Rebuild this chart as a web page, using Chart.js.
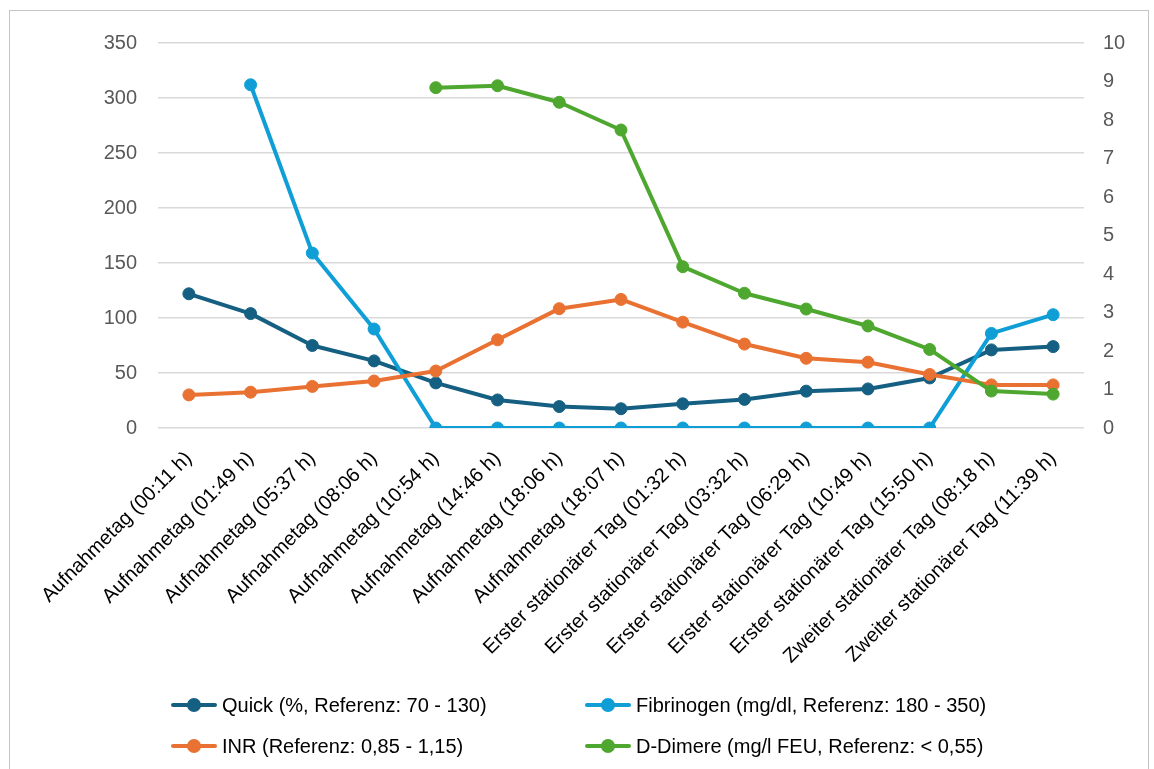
<!DOCTYPE html>
<html>
<head>
<meta charset="utf-8">
<script src="https://cdn.jsdelivr.net/npm/chart.js@4.4.1/dist/chart.umd.min.js"></script>
<style>
  html, body { margin: 0; padding: 0; background: #fff; }
  body { width: 1154px; height: 769px; position: relative; overflow: hidden;
         font-family: "Liberation Sans", Arial, sans-serif; }
  #frame { position: absolute; left: 9px; top: 10px; width: 1140px; height: 800px;
           border: 1.5px solid #c4c4c4; box-sizing: border-box; }
  #wrap { position: absolute; left: 0; top: 0; width: 1154px; height: 769px; }
  #legend { position: absolute; left: 0; top: 0; }
  .item { position: absolute; height: 24px; display: flex; align-items: center;
          font-size: 20px; color: #000; white-space: nowrap; }
  .mark { position: relative; width: 46px; height: 14px; margin-right: 5px; }
  .mark .ln { position: absolute; left: 0; right: 0; top: 5px; height: 4px; border-radius: 2px; }
  .mark .dt { position: absolute; left: 16px; top: 0; width: 14px; height: 14px; border-radius: 50%; }
</style>
</head>
<body>
<div id="frame"></div>
<div id="wrap"><canvas id="c" width="1154" height="769"></canvas></div>
<div id="legend"></div>
<script>
// Messzeitpunkte
const categories = [
  "Aufnahmetag (00:11 h)", "Aufnahmetag (01:49 h)", "Aufnahmetag (05:37 h)",
  "Aufnahmetag (08:06 h)", "Aufnahmetag (10:54 h)", "Aufnahmetag (14:46 h)",
  "Aufnahmetag (18:06 h)", "Aufnahmetag (18:07 h)", "Erster stationärer Tag (01:32 h)",
  "Erster stationärer Tag (03:32 h)", "Erster stationärer Tag (06:29 h)",
  "Erster stationärer Tag (10:49 h)", "Erster stationärer Tag (15:50 h)",
  "Zweiter stationärer Tag (08:18 h)", "Zweiter stationärer Tag (11:39 h)"
];

// Primärachse (links)
const quick      = [122, 104, 75, 61, 41, 25.5, 19.5, 17.5, 22, 26, 33.5, 35.5, 45.5, 71, 74];
const fibrinogen = [null, 312, 159, 90, 0, 0, 0, 0, 0, 0, 0, 0, 0, 86, 103];

// Sekundärachse (rechts)
const inr      = [0.86, 0.93, 1.08, 1.22, 1.48, 2.29, 3.1, 3.34, 2.75, 2.18, 1.81, 1.71, 1.39, 1.12, 1.12];
const dDimere  = [null, null, null, null, 8.84, 8.89, 8.46, 7.74, 4.19, 3.5, 3.09, 2.65, 2.04, 0.96, 0.88];

// Achsenbeschriftung
const leftTicks  = [0, 50, 100, 150, 200, 250, 300, 350];
const rightTicks = [0, 1, 2, 3, 4, 5, 6, 7, 8, 9, 10];

const seriesNames = [
  "Quick (%, Referenz: 70 - 130)",
  "Fibrinogen (mg/dl, Referenz: 180 - 350)",
  "INR (Referenz: 0,85 - 1,15)",
  "D-Dimere (mg/l FEU, Referenz: < 0,55)"
];
const colors = ["#156082", "#0F9ED5", "#E97132", "#4EA72E"];

const FONT = '"Liberation Sans", Arial, sans-serif';

function lineSet(label, data, color, axis, order) {
  return {
    label, data, yAxisID: axis, order,
    borderColor: color, backgroundColor: color,
    borderWidth: 4, pointRadius: 6, pointBorderWidth: 1,
    pointBackgroundColor: color, pointBorderColor: color,
    pointHoverRadius: 6, tension: 0, spanGaps: false,
    borderCapStyle: 'round', borderJoinStyle: 'round'
  };
}

const chart = new Chart(document.getElementById('c'), {
  type: 'line',
  data: {
    labels: categories,
    datasets: [
      lineSet(seriesNames[0], quick, colors[0], 'y', 4),
      lineSet(seriesNames[1], fibrinogen, colors[1], 'y', 3),
      lineSet(seriesNames[2], inr, colors[2], 'y2', 2),
      lineSet(seriesNames[3], dDimere, colors[3], 'y2', 1)
    ]
  },
  options: {
    responsive: false,
    animation: false,
    devicePixelRatio: 1,
    layout: { padding: { top: 43, right: 0, bottom: 0, left: 0 } },
    plugins: { legend: { display: false }, tooltip: { enabled: false } },
    scales: {
      x: {
        offset: true,
        grid: { display: false, drawTicks: false },
        border: { display: false },
        ticks: {
          autoSkip: false, minRotation: 45, maxRotation: 45, padding: 19,
          color: '#000', font: { family: FONT, size: 20 }
        },
        afterFit: s => { s.height = 769 - 428; }
      },
      y: {
        position: 'left', min: 0, max: 350,
        afterBuildTicks: s => { s.ticks = leftTicks.map(v => ({ value: v })); },
        grid: { color: '#d9d9d9', lineWidth: 1.5, drawTicks: false },
        border: { display: false },
        ticks: { padding: 21, color: '#595959', font: { family: FONT, size: 20 } },
        afterFit: s => { s.width = 158; }
      },
      y2: {
        position: 'right', min: 0, max: 10,
        afterBuildTicks: s => { s.ticks = rightTicks.map(v => ({ value: v })); },
        grid: { display: false, drawTicks: false },
        border: { display: false },
        ticks: { padding: 19, color: '#595959', font: { family: FONT, size: 20 } },
        afterFit: s => { s.width = 1154 - 1084; }
      }
    }
  }
});

// Legende in zwei Spalten
const legendPos = [[171, 693], [585, 693], [171, 734], [585, 734]];
const legend = document.getElementById('legend');
seriesNames.forEach((name, i) => {
  const it = document.createElement('div');
  it.className = 'item';
  it.style.left = legendPos[i][0] + 'px';
  it.style.top = legendPos[i][1] + 'px';
  it.innerHTML = '<span class="mark"><span class="ln" style="background:' + colors[i] +
    '"></span><span class="dt" style="background:' + colors[i] + '"></span></span>';
  const t = document.createElement('span');
  t.textContent = name;
  it.appendChild(t);
  legend.appendChild(it);
});
</script>
</body>
</html>
